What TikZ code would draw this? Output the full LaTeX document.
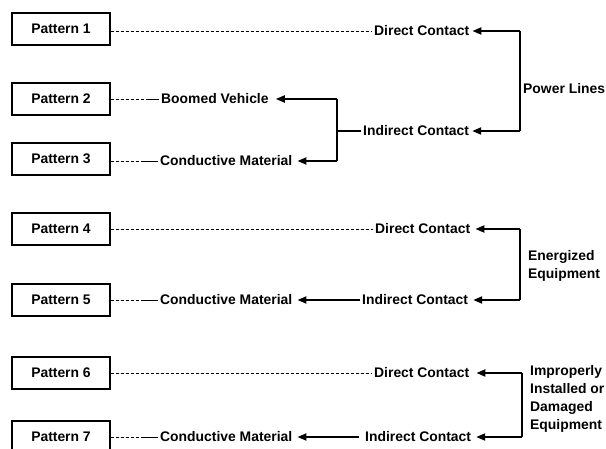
\documentclass[tikz,border=0pt]{standalone}
\usepackage{fontspec}
\setmainfont{Liberation Sans}
\usetikzlibrary{arrows.meta}
\begin{document}
\begin{tikzpicture}[x=1pt,y=-1pt,
  font=\fontsize{13.9}{18}\selectfont\bfseries,
  patbox/.style={draw,line width=1.2pt,minimum width=98pt,minimum height=32pt,inner sep=0pt},
  lbl/.style={anchor=west,inner xsep=2pt,inner ysep=0pt},
  dashln/.style={line width=0.9pt,dash pattern=on 3pt off 2pt},
  solidln/.style={line width=0.9pt},
  bracket/.style={line width=2pt},
  arr/.style={line width=2pt,-{Triangle[length=9pt,width=7pt]}}]
\clip (0,0) rectangle (606,449);
\fill[white] (0,0) rectangle (606,449);
% pattern boxes
\node[patbox] (p1) at (61,29) {Pattern 1};
\node[patbox] (p2) at (61,99) {Pattern 2};
\node[patbox] (p3) at (61,159) {Pattern 3};
\node[patbox] (p4) at (61,229) {Pattern 4};
\node[patbox] (p5) at (61,300) {Pattern 5};
\node[patbox] (p6) at (61,373) {Pattern 6};
\node[patbox] (p7) at (61,437) {Pattern 7};
% labels
\node[lbl] (d1) at (372,31) {Direct Contact};
\node[lbl] (i1) at (361,131) {Indirect Contact};
\node[lbl] (bv) at (159,99) {Boomed Vehicle};
\node[lbl] (cm3) at (158,161) {Conductive Material};
\node[lbl] (d4) at (373,229) {Direct Contact};
\node[lbl] (i5) at (360,300) {Indirect Contact};
\node[lbl] (cm5) at (158,300) {Conductive Material};
\node[lbl] (d6) at (372,373) {Direct Contact};
\node[lbl] (i7) at (363,437) {Indirect Contact};
\node[lbl] (cm7) at (158,437) {Conductive Material};
\node[lbl,inner xsep=0pt] (pl) at (523,89) {Power Lines};
\node[lbl,inner xsep=0pt,align=left] (ee) at (528,266) {Energized\\Equipment};
\node[lbl,inner xsep=0pt,align=left] (ie) at (530,399) {Improperly\\Installed or\\Damaged\\Equipment};
% bracket coordinates
\coordinate (a1) at (520,31);
\coordinate (a2) at (520,131);
\coordinate (c1) at (337,99);
\coordinate (c2) at (337,161);
\coordinate (c3) at (337,131);
\coordinate (e1) at (520,229);
\coordinate (e2) at (520,300);
\coordinate (f1) at (522,373);
\coordinate (f2) at (522,437);
\coordinate (m2) at (146,99);
\coordinate (m3) at (144,161);
\coordinate (m5) at (142,300);
\coordinate (m7) at (142,437);
% dashed connectors
\draw[dashln] (p1.east |- d1) -- (d1.west);
\draw[dashln] (p4.east |- d4) -- (d4.west);
\draw[dashln] (p6.east |- d6) -- (d6.west);
\draw[dashln] (p2.east |- m2) -- (m2);
\draw[solidln] (m2) -- (bv.west);
\draw[dashln] (p3.east |- m3) -- (m3);
\draw[solidln] (m3) -- (cm3.west);
\draw[dashln] (p5.east |- m5) -- (m5);
\draw[solidln] (m5) -- (cm5.west);
\draw[dashln] (p7.east |- m7) -- (m7);
\draw[solidln] (m7) -- (cm7.west);
% brackets
\draw[bracket] (a1) -- (a2);
\draw[arr] (a1) -- ([xshift=1pt]d1.east);
\draw[arr] (a2) -- ([xshift=1pt]i1.east);
\draw[bracket] (c1) -- (c2);
\draw[bracket] (c3) -- (i1.west);
\draw[arr] (c1) -- ([xshift=5pt]bv.east);
\draw[arr] (c2) -- ([xshift=3pt]cm3.east);
\draw[bracket] (e1) -- (e2);
\draw[arr] (e1) -- ([xshift=3pt]d4.east);
\draw[arr] (e2) -- ([xshift=3pt]i5.east);
\draw[arr] (i5.west) -- ([xshift=3pt]cm5.east);
\draw[bracket] (f1) -- (f2);
\draw[arr] (f1) -- ([xshift=5pt]d6.east);
\draw[arr] (f2) -- ([xshift=3pt]i7.east);
\draw[arr] ([xshift=-4pt]i7.west) -- ([xshift=3pt]cm7.east);
\end{tikzpicture}
\end{document}
